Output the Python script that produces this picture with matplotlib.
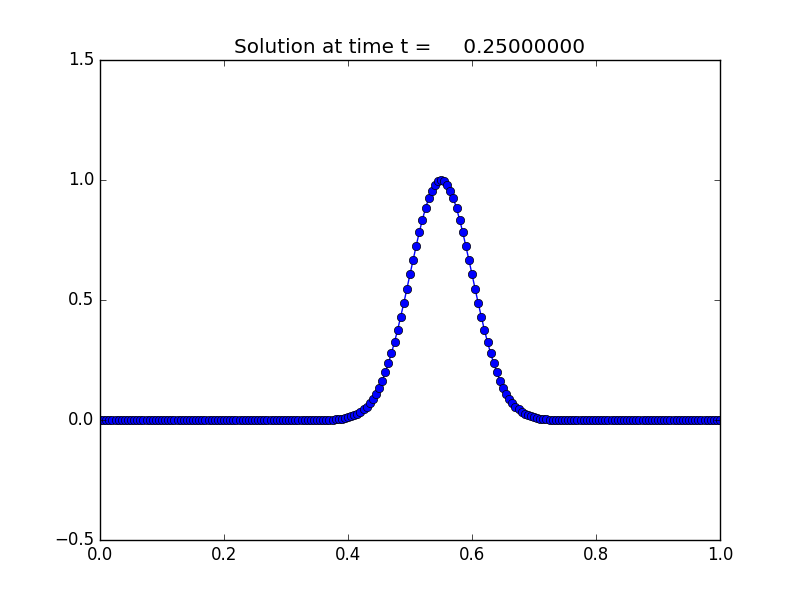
import numpy as np
import matplotlib
matplotlib.use("Agg")
import matplotlib.pyplot as plt

plt.style.use("classic")

# grid of 201 points on [0, 1]
x = np.linspace(0.0, 1.0, 201)

left_zeros = [0.0] * 73
pulse = [
    0.001, 0.0015, 0.002, 0.003, 0.004, 0.006, 0.008, 0.011, 0.015, 0.020,
    0.026, 0.034, 0.044, 0.056, 0.071, 0.089, 0.110, 0.135, 0.164, 0.198,
    0.236, 0.278, 0.325, 0.375, 0.430, 0.487, 0.546, 0.607, 0.667, 0.726,
    0.783, 0.835, 0.882, 0.923, 0.956, 0.980, 0.995,
    1.000,
    0.995, 0.980, 0.956, 0.923, 0.882, 0.835, 0.783, 0.726, 0.667, 0.607,
    0.546, 0.487, 0.430, 0.375, 0.325, 0.278, 0.236, 0.198, 0.164, 0.135,
    0.110, 0.089, 0.071, 0.056, 0.044, 0.034, 0.026, 0.020, 0.015, 0.011,
    0.008, 0.006, 0.004, 0.003, 0.002, 0.0015, 0.001,
]
right_zeros = [0.0] * 53
u = left_zeros + pulse + right_zeros

title_text = "Solution at time t =     0.25000000"

fig = plt.figure(figsize=(8, 6), dpi=100)
ax = fig.add_axes([0.125, 0.1, 0.775, 0.8])
ax.plot(x, u, "bo-")
ax.set_xlim(0.0, 1.0)
ax.set_ylim(-0.5, 1.5)
ax.set_xticks([0.0, 0.2, 0.4, 0.6, 0.8, 1.0])
ax.set_yticks([-0.5, 0.0, 0.5, 1.0, 1.5])
ax.set_title(title_text)
fig.savefig("out.png", dpi=100)
